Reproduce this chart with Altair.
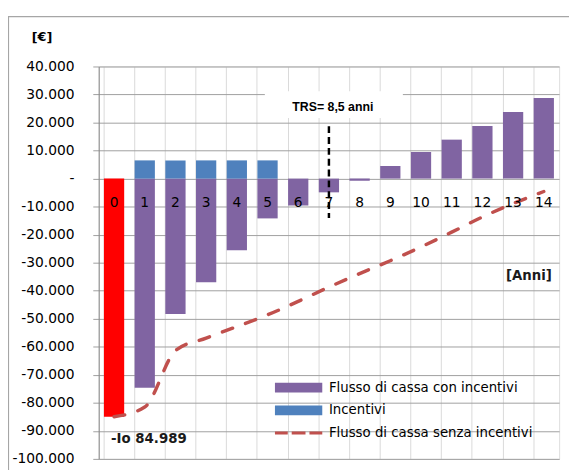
import altair as alt
import pandas as pd

# ---------------- data ----------------
years = [str(i) for i in range(15)]
flusso_con_years = [str(i) for i in range(1, 15)]
flusso_con = [-74600, -48300, -37000, -25600, -14200, -9600, -4900, -800,
              4500, 9500, 13900, 18800, 23800, 28800]
incentivi_years = ["1", "2", "3", "4", "5"]
incentivi = [6500, 6500, 6500, 6500, 6500]
investimento_year = ["0"]
investimento = [-84989]
flusso_senza = [-84989, -81500, -61400, -56900, -52800, -48600, -43800, -38700,
                -33900, -29300, -24400, -19100, -13700, -8900, -4600]
series_names = ["Flusso di cassa con incentivi", "Incentivi",
                "Flusso di cassa senza incentivi"]
series_colors = ["#8064A2", "#4F81BD", "#C0504D"]
y_ticks = [40000, 30000, 20000, 10000, 0, -10000, -20000, -30000, -40000,
           -50000, -60000, -70000, -80000, -90000, -100000]
trs_label = ["TRS= 8,5 anni"]
trs_year = "7"
trs_top, trs_bottom = 18700, -14100
anni_label = ["[Anni]"]
io_label = ["-Io 84.989"]

# ---------------- tables ----------------
bars_df = pd.DataFrame({
    "year": flusso_con_years + incentivi_years,
    "value": flusso_con + incentivi,
    "series": [series_names[0]] * len(flusso_con) + [series_names[1]] * len(incentivi),
})
red_df = pd.DataFrame({"year": investimento_year, "value": investimento})
line_df = pd.DataFrame({"year": years, "value": flusso_senza})
cat_df = pd.DataFrame({"year": years})
legend_df = pd.DataFrame({"series": series_names, "year": ["0"] * 3, "value": [0] * 3})

FONT = "DejaVu Sans"
xscale = alt.Scale(domain=years, paddingInner=0.34, paddingOuter=0.17)
yscale = alt.Scale(domain=[-100000, 40000], nice=False, zero=False)

rect_path = "M-4.8,-1H4.8V1H-4.8Z"
dash_path = ("M-4.8,-0.3H-2.2V0.3H-4.8Z M-1.4,-0.3H1.4V0.3H-1.4Z "
             "M2.2,-0.3H4.8V0.3H2.2Z")

legend = alt.Legend(title=None, orient="none", legendX=196, legendY=319,
                    symbolSize=100, symbolStrokeWidth=0, symbolOpacity=1,
                    labelOffset=24, labelFont=FONT, labelFontSize=13.5,
                    labelColor="black", rowPadding=8, padding=0, labelLimit=400)
color_scale = alt.Scale(domain=series_names, range=series_colors)
shape_scale = alt.Scale(domain=series_names, range=[rect_path, rect_path, dash_path])

x_axis = alt.Axis(title=None, labels=False, ticks=False, domain=False, grid=True,
                  gridColor="#D9D9D9", gridWidth=1, bandPosition=0)
y_axis = alt.Axis(
    title="[€]", titleAngle=0, titleX=-58, titleY=-30, titleAlign="center",
    titleBaseline="middle", titleFont=FONT, titleFontSize=13, titleFontWeight="bold",
    titleColor="black",
    values=y_ticks, labelOverlap=False, tickCount=15,
    labelExpr="datum.value == 0 ? '-\u00a0\u00a0\u00a0' : (datum.value < 0 ? '-' : '') + replace(format(abs(datum.value), ','), ',', '.')",
    labelFont=FONT, labelFontSize=14, labelColor="black", labelPadding=19,
    grid=True, gridColor="#A0A0A0", gridWidth=1,
    domainColor="#868686", tickColor="#A0A0A0", tickSize=6,
)

# frame around the chart (decoration)
frame = alt.Chart(pd.DataFrame({"k": [0]})).mark_rect(
    fill="transparent", stroke="#A6A6A6", strokeWidth=1.2
).encode(x=alt.value(-91.5), x2=alt.value(490), y=alt.value(-50.5), y2=alt.value(430))

bars = alt.Chart(bars_df).mark_bar().encode(
    x=alt.X("year:O", scale=xscale, axis=x_axis, sort=years),
    y=alt.Y("value:Q", scale=yscale, axis=y_axis, stack=None),
    color=alt.Color("series:N", scale=color_scale, legend=legend),
)

red_bar = alt.Chart(red_df).mark_bar(color="#FF0000").encode(
    x=alt.X("year:O", sort=years, axis=x_axis),
    y=alt.Y("value:Q", stack=None, axis=y_axis)
)

trs_box = alt.Chart(pd.DataFrame({"k": [0]})).mark_bar(
    color="white", width=140, xOffset=5
).encode(
    x=alt.XDatum(trs_year, type="ordinal", axis=x_axis),
    y=alt.YDatum(31200, type="quantitative", axis=y_axis),
    y2=alt.Y2Datum(21600),
)

line = alt.Chart(line_df).mark_line(
    color="#C0504D", strokeWidth=3.5, strokeDash=[11, 14], strokeCap="round",
    interpolate="monotone"
).encode(x=alt.X("year:O", sort=years, axis=x_axis),
         y=alt.Y("value:Q", axis=y_axis))

trs_rule = alt.Chart(pd.DataFrame({"k": [0]})).mark_rule(
    color="black", strokeWidth=2.5, strokeDash=[7, 4]
).encode(
    x=alt.XDatum(trs_year, type="ordinal", axis=x_axis),
    y=alt.YDatum(trs_top, type="quantitative", axis=y_axis),
    y2=alt.Y2Datum(trs_bottom),
)

cat_labels = alt.Chart(cat_df).mark_text(
    font=FONT, fontSize=14, color="black", dy=25, baseline="middle"
).encode(x=alt.X("year:O", sort=years, axis=x_axis),
         y=alt.YDatum(0, type="quantitative", axis=y_axis),
         text="year:N")

trs_text = alt.Chart(pd.DataFrame({"t": trs_label})).mark_text(
    font="Liberation Sans", fontSize=12.5, fontWeight="bold", color="black",
    dx=4, baseline="middle"
).encode(x=alt.XDatum(trs_year, type="ordinal", axis=x_axis),
         y=alt.YDatum(25700, type="quantitative", axis=y_axis), text="t:N")

anni_text = alt.Chart(pd.DataFrame({"t": anni_label})).mark_text(
    font=FONT, fontSize=13.5, fontWeight="bold", color="#1a1a1a",
    dx=16, baseline="middle"
).encode(x=alt.XDatum("13", type="ordinal", axis=x_axis),
         y=alt.YDatum(-34800, type="quantitative", axis=y_axis), text="t:N")

io_text = alt.Chart(pd.DataFrame({"t": io_label})).mark_text(
    font=FONT, fontSize=13.5, fontWeight="bold", color="#1a1a1a",
    dx=-3, align="left", baseline="middle"
).encode(x=alt.XDatum("0", type="ordinal", axis=x_axis),
         y=alt.YDatum(-93000, type="quantitative", axis=y_axis), text="t:N")

legend_pts = alt.Chart(legend_df).mark_point(filled=True, opacity=0, size=100).encode(
    x=alt.X("year:O", sort=years, axis=x_axis), y=alt.Y("value:Q", axis=y_axis),
    color=alt.Color("series:N", scale=color_scale, legend=legend),
    shape=alt.Shape("series:N", scale=shape_scale, legend=legend),
)

chart = alt.layer(
    frame, trs_box, bars, red_bar, line, trs_rule, cat_labels, trs_text,
    anni_text, io_text, legend_pts
).properties(
    width=467, height=398,
    autosize=alt.AutoSizeParams(type="none"),
    padding={"left": 92, "top": 56, "right": 10, "bottom": 12},
).configure_view(stroke="#D9D9D9").configure_axis(
    labelOverlap=False
).configure(background="white")

chart.save("out.html", embed_options={"renderer": "svg", "actions": False})
